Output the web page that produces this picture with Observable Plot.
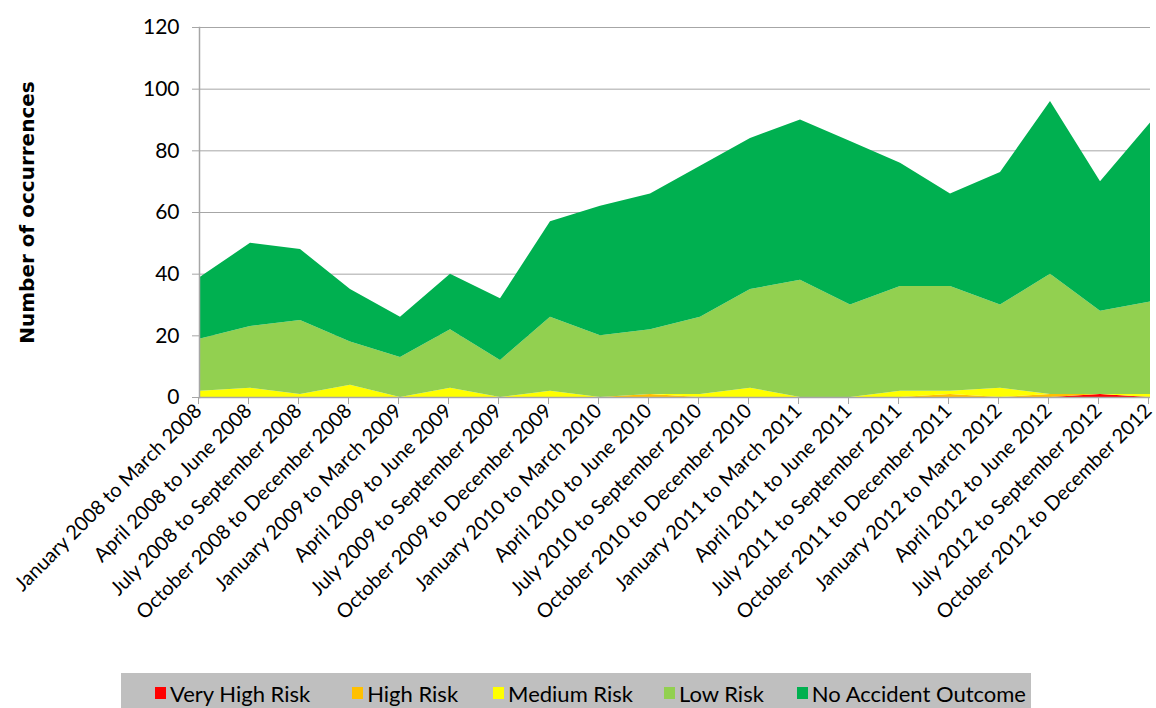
<!DOCTYPE html>
<html>
<head>
<meta charset="utf-8">
<script src="https://cdn.jsdelivr.net/npm/d3@7"></script>
<script src="https://cdn.jsdelivr.net/npm/@observablehq/plot@0.6"></script>
<style>
  html, body { margin: 0; padding: 0; background: #fff; }
  #wrap { position: relative; width: 1156px; height: 708px; overflow: hidden; font-family: Lato, "DejaVu Sans", sans-serif; }
  #chart { position: absolute; left: 0; top: 0; }
  #legend { position: absolute; left: 121px; top: 673px; width: 910px; height: 40px; background: #bfbfbf;
            display: flex; align-items: center; padding-left: 34px; box-sizing: border-box; font-size: 22px; color: #000; }
  .item { display: flex; align-items: center; white-space: nowrap; }
  .sw { width: 11px; height: 12px; margin-right: 4px; display: inline-block; }
</style>
</head>
<body>
<div id="wrap">
  <div id="chart"></div>
  <div id="legend"></div>
</div>
<script>
const periods = [
  "January 2008 to March 2008", "April 2008 to June 2008", "July 2008 to September 2008", "October 2008 to December 2008",
  "January 2009 to March 2009", "April 2009 to June 2009", "July 2009 to September 2009", "October 2009 to December 2009",
  "January 2010 to March 2010", "April 2010 to June 2010", "July 2010 to September 2010", "October 2010 to December 2010",
  "January 2011 to March 2011", "April 2011 to June 2011", "July 2011 to September 2011", "October 2011 to December 2011",
  "January 2012 to March 2012", "April 2012 to June 2012", "July 2012 to September 2012", "October 2012 to December 2012"
];
const seriesNames = ["Very High Risk", "High Risk", "Medium Risk", "Low Risk", "No Accident Outcome"];
const seriesColors = ["#ff0000", "#ffc000", "#ffff00", "#92d050", "#00b050"];

const veryHighRisk = [0,0,0,0,0,0,0,0,0,0,0,0,0,0,0,0,0,0,1,0];
const highRisk     = [0,0,0,0,0,0,0,0,0,1,0,0,0,0,0,1,0,1,0,0];
const mediumRisk   = [2,3,1,4,0,3,0,2,0,0,1,3,0,0,2,1,3,0,0,1];
const lowRisk      = [17,20,24,14,13,19,12,24,20,21,25,32,38,30,34,34,27,39,27,30];
const noAccident   = [20,27,23,17,13,18,20,31,42,44,49,49,52,53,40,30,43,56,42,58];

const yTicks = [0, 20, 40, 60, 80, 100, 120];
const yTitle = "Number of occurrences";

const seriesValues = [veryHighRisk, highRisk, mediumRisk, lowRisk, noAccident];
const data = [];
seriesNames.forEach((s, i) => {
  periods.forEach((p, j) => data.push({period: p, series: s, value: seriesValues[i][j]}));
});

const font = "Lato, 'DejaVu Sans', sans-serif";
const grey = "#a6a6a6";

const plot = Plot.plot({
  width: 1156,
  height: 670,
  marginLeft: 199,
  marginRight: 6,
  marginTop: 27,
  marginBottom: 273,
  style: {fontFamily: font, background: "transparent", color: "#000", overflow: "visible"},
  x: {type: "point", domain: periods, padding: 0},
  y: {domain: [0, 120], ticks: yTicks},
  color: {domain: seriesNames, range: seriesColors},
  marks: [
    Plot.ruleY(yTicks.filter(d => d > 0), {stroke: grey, strokeWidth: 1}),
    Plot.areaY(data, {x: "period", y: "value", z: "series", fill: "series", curve: "linear", order: seriesNames}),
    Plot.ruleY([0], {stroke: grey, strokeWidth: 1.5}),
    Plot.frame({anchor: "left", stroke: grey, strokeWidth: 1.5}),
    Plot.axisY({ticks: yTicks, tickSize: 7, tickPadding: 13, stroke: grey, fill: "#000", fontSize: 21, label: null}),
    Plot.axisX({tickSize: 7, tickPadding: 3, tickRotate: -45, stroke: grey, fill: "#000", fontSize: 20, label: null, dx: -2}),
    Plot.text([yTitle], {frameAnchor: "left", dx: -172, rotate: -90, textAnchor: "middle", text: d => d,
      fontSize: 20, fontWeight: "bold", fontFamily: "'DejaVu Sans', sans-serif", fill: "#000"})
  ]
});
document.getElementById("chart").appendChild(plot);

const legendGaps = [42, 35, 31, 33, 0];
const legend = document.getElementById("legend");
seriesNames.forEach((s, i) => {
  const item = document.createElement("div");
  item.className = "item";
  item.style.marginRight = legendGaps[i] + "px";
  const sw = document.createElement("span");
  sw.className = "sw";
  sw.style.background = seriesColors[i];
  const t = document.createElement("span");
  t.textContent = s;
  item.appendChild(sw);
  item.appendChild(t);
  legend.appendChild(item);
});
</script>
</body>
</html>
